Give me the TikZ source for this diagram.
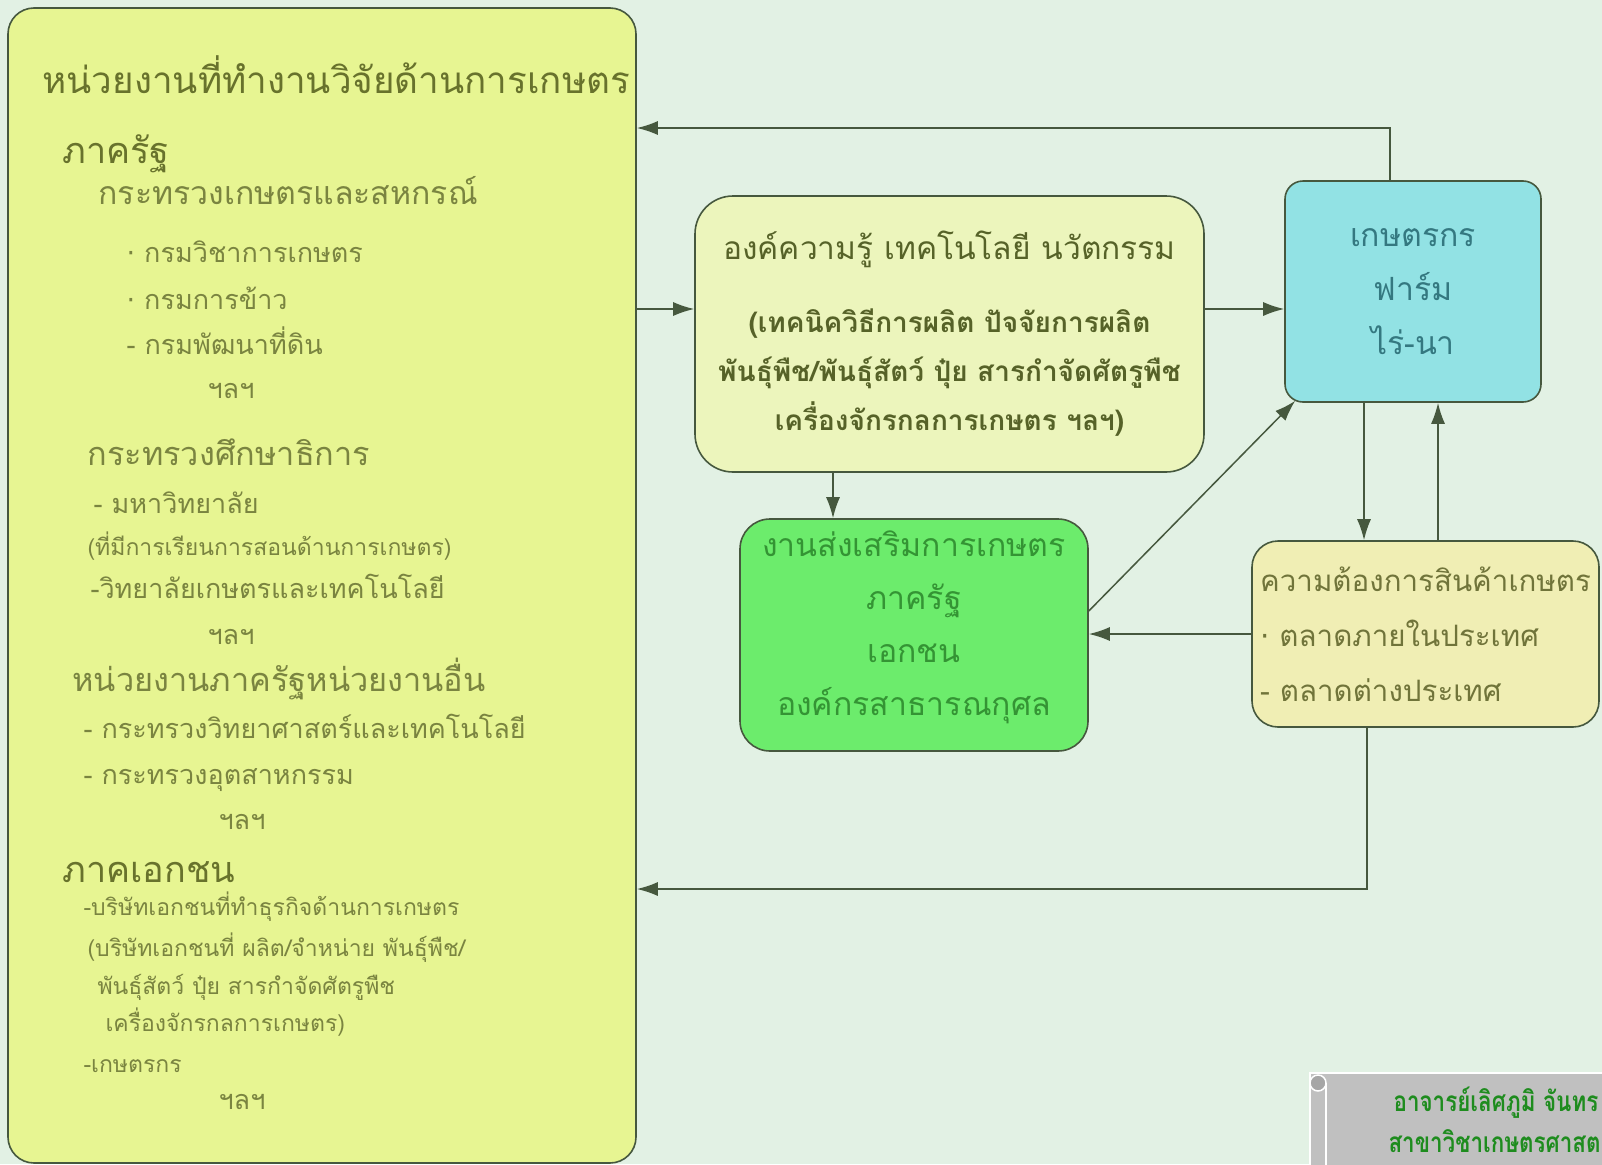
\documentclass[tikz,border=0pt]{standalone}
\usepackage{fontspec}
\newfontfamily\thai[Script=Thai]{Loma}
\newfontfamily\signfont[Script=Thai, FakeStretch=0.8]{Loma}
\newfontfamily\symfont{DejaVu Sans}
\usetikzlibrary{arrows.meta, positioning}
\definecolor{bgmint}{RGB}{226,241,228}
\definecolor{leftfill}{RGB}{231,245,146}
\definecolor{knowfill}{RGB}{236,245,188}
\definecolor{farmfill}{RGB}{146,226,228}
\definecolor{extfill}{RGB}{108,236,108}
\definecolor{demfill}{RGB}{240,238,180}
\definecolor{edge}{RGB}{70,88,62}
\definecolor{olivetxt}{RGB}{104,114,44}
\definecolor{olivelite}{RGB}{122,132,64}
\definecolor{knowtxt}{RGB}{86,98,40}
\definecolor{farmtxt}{RGB}{52,120,128}
\definecolor{exttxt}{RGB}{52,148,52}
\definecolor{demtxt}{RGB}{112,116,58}
\definecolor{signgray}{RGB}{192,192,192}
\definecolor{signtxt}{RGB}{30,140,30}
\newcommand{\bul}{{\symfont ·}}

\begin{document}
\begin{tikzpicture}[
    x=1pt, y=-1pt,
    % boxes
    panel/.style={draw=edge, line width=1.6pt, rectangle, inner sep=0pt},
    head/.style={anchor=base west, text=olivetxt, font=\thai\fontsize{36}{40}\selectfont},
    sub/.style={anchor=base west, text=olivelite, font=\thai\fontsize{32.5}{36}\selectfont},
    item/.style={anchor=base west, text=olivelite, font=\thai\fontsize{27}{30}\selectfont},
    note/.style={anchor=base west, text=olivelite, font=\thai\fontsize{23}{26}\selectfont},
    arr/.style={->, draw=edge, line width=1.5pt},
    >={Latex[length=21pt,width=14pt]}
]
\clip (0,0) rectangle (1602,1164);
\fill[bgmint] (0,0) rectangle (1602,1164);

% Nodes
\node[panel, fill=leftfill, rounded corners=26pt, minimum width=628pt, minimum height=1155pt] (agency) at (322,585.5) {};
\node[head, font=\thai\fontsize{36.8}{40}\selectfont] (title) at (39,93) {หน่วยงานที่ทำงานวิจัยด้านการเกษตร};
\node[head] (gov) at (59,163) {ภาครัฐ};
\node[sub, font=\thai\fontsize{32}{36}\selectfont] (moac) at (95,204) {กระทรวงเกษตรและสหกรณ์};
\node[item] (doa) at (123,262) {\bul\ กรมวิชาการเกษตร};
\node[item] (rice) at (123,309) {\bul\ กรมการข้าว};
\node[item] (ldd) at (123,354) {- กรมพัฒนาที่ดิน};
\node[item] (etc1) at (204,398) {ฯลฯ};
\node[sub] (moe) at (84,465) {กระทรวงศึกษาธิการ};
\node[item] (univ) at (90,513) {- มหาวิทยาลัย};
\node[note] (univnote) at (84,555) {(ที่มีการเรียนการสอนด้านการเกษตร)};
\node[item] (college) at (87,598) {-วิทยาลัยเกษตรและเทคโนโลยี};
\node[item] (etc2) at (204,644) {ฯลฯ};
\node[sub] (othergov) at (69,691) {หน่วยงานภาครัฐหน่วยงานอื่น};
\node[item] (most) at (80,738) {- กระทรวงวิทยาศาสตร์และเทคโนโลยี};
\node[item] (moi) at (80,784) {- กระทรวงอุตสาหกรรม};
\node[item] (etc3) at (215,829) {ฯลฯ};
\node[head] (private) at (59,882) {ภาคเอกชน};
\node[note] (firm) at (80,915) {-บริษัทเอกชนที่ทำธุรกิจด้านการเกษตร};
\node[note] (firmnote1) at (84,956) {(บริษัทเอกชนที่ ผลิต/จำหน่าย พันธุ์พืช/};
\node[note] (firmnote2) at (94,994) {พันธุ์สัตว์ ปุ๋ย สารกำจัดศัตรูพืช};
\node[note] (firmnote3) at (102,1031) {เครื่องจักรกลการเกษตร)};
\node[note] (farmers) at (80,1072) {-เกษตรกร};
\node[item] (etc4) at (215,1109) {ฯลฯ};

\node[panel, fill=knowfill, rounded corners=38pt, minimum width=509pt, minimum height=276pt, align=center, text=knowtxt, font=\thai\fontsize{28}{49}\selectfont] (know) at (949.5,334)
  {{\fontsize{31.7}{40}\selectfont องค์ความรู้ เทคโนโลยี นวัตกรรม}\\[24pt]
   \bfseries (เทคนิควิธีการผลิต ปัจจัยการผลิต\\
   \bfseries พันธุ์พืช/พันธุ์สัตว์ ปุ๋ย สารกำจัดศัตรูพืช\\
   \bfseries เครื่องจักรกลการเกษตร ฯลฯ)};
\node[panel, fill=farmfill, rounded corners=18pt, minimum width=256pt, minimum height=221pt, align=center, text=farmtxt, font=\thai\fontsize{32}{54}\selectfont] (farm) at (1413,291.5)
  {เกษตรกร\\ ฟาร์ม\\ ไร่-นา};
\node[panel, fill=extfill, rounded corners=30pt, minimum width=348pt, minimum height=232pt, align=center, text=exttxt, font=\thai\fontsize{32}{53}\selectfont, text depth=24pt] (ext) at (914,635)
  {งานส่งเสริมการเกษตร\\ ภาครัฐ\\ เอกชน\\ องค์กรสาธารณกุศล};
\node[panel, fill=demfill, rounded corners=26pt, minimum width=347pt, minimum height=186pt, align=left, text=demtxt, font=\thai\fontsize{29.5}{55}\selectfont] (demand) at (1425.5,634)
  {ความต้องการสินค้าเกษตร\\ \bul\ ตลาดภายในประเทศ\\ - ตลาดต่างประเทศ};

% signature scroll
\node[draw=white, line width=1.5pt, fill=signgray, minimum width=320pt, minimum height=110pt, inner sep=0pt] (sign) at (1470,1128) {};
\draw[white, line width=1.5pt, fill=gray!70] (1318,1083) circle (8pt);
\draw[white, line width=1.5pt] (1326,1083) -- (1326,1180);
\node[anchor=base west, text=signtxt, font=\signfont\bfseries\fontsize{28}{30}\selectfont] (signname) at (1390,1111) {อาจารย์เลิศภูมิ จันทร};
\node[anchor=base west, text=signtxt, font=\signfont\bfseries\fontsize{28}{30}\selectfont] (signdept) at (1385,1152) {สาขาวิชาเกษตรศาสต};

% Connections
\coordinate (topturn) at (1390,128);
\coordinate (botturn) at (1367,889);
\draw[arr] (farm.north -| topturn) -- (topturn) -- (topturn -| agency.east);
\draw[arr] ([yshift=25pt]know.west -| agency.east) -- ([yshift=25pt]know.west);
\draw[arr] ([yshift=25pt]know.east) -- ([yshift=25pt]know.east -| farm.west);
\draw[arr] ([xshift=-81pt]ext.north |- know.south) -- ([xshift=-81pt]ext.north);
\draw[arr] ([yshift=24pt]ext.east) -- ([xshift=11pt,yshift=2pt]farm.south west);
\draw[arr] ([xshift=-49pt]farm.south) -- ([xshift=-49pt]farm.south |- demand.north);
\draw[arr] ([xshift=25pt]farm.south |- demand.north) -- ([xshift=25pt]farm.south);
\draw[arr] (demand.west) -- (demand.west -| ext.east);
\draw[arr] (demand.south -| botturn) -- (botturn) -- (botturn -| agency.east);
\end{tikzpicture}
\end{document}
